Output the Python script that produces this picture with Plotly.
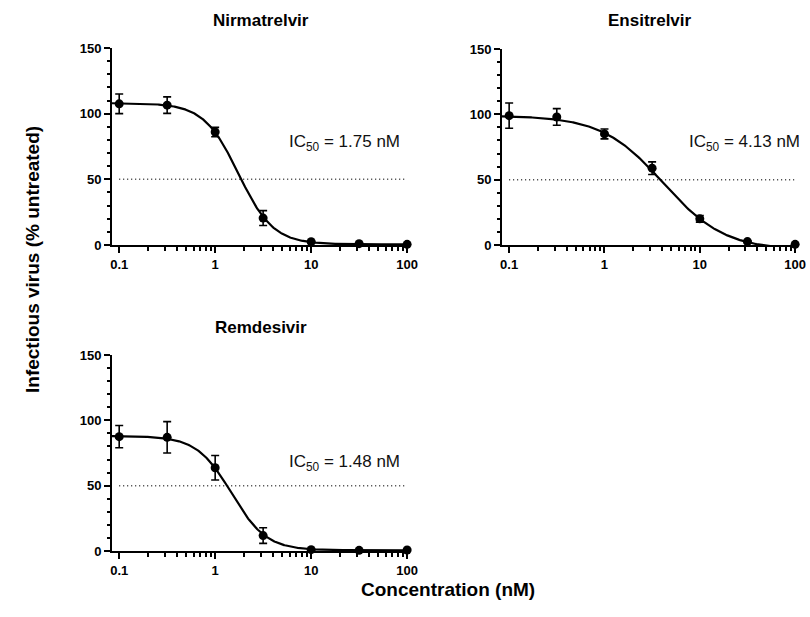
import numpy as np
import plotly.graph_objects as go

# ---------------- data ----------------
conc = [0.1, 0.316, 1, 3.16, 10, 31.6, 100]          # nM
drugs = ["Nirmatrelvir", "Ensitrelvir", "Remdesivir"]
ic50_labels = ["1.75", "4.13", "1.48"]

nirm_mean = [107.5, 106.5, 86, 20.5, 2.5, 1.0, 0.5]
nirm_sd = [7.5, 6.3, 3.6, 5.7, 0.6, 0.4, 0.3]
ensi_mean = [99, 98, 85, 58.8, 20, 2.6, 0.5]
ensi_sd = [9.7, 6.4, 3.8, 4.8, 2.5, 0.6, 0.3]
remd_mean = [87.5, 87, 63.7, 11.8, 1.0, 0.5, 0.8]
remd_sd = [8.5, 12, 9.4, 6.0, 0.5, 0.3, 0.3]

# four-parameter logistic fit parameters (top, bottom, IC50, Hill slope)
fit_top = [108, 99, 88]
fit_bottom = [0.5, -4, 0.5]
fit_ic50 = [1.75, 4.13, 1.48]
fit_hill = [2.4, 1.35, 2.4]

means = [nirm_mean, ensi_mean, remd_mean]
sds = [nirm_sd, ensi_sd, remd_sd]

# ---------------- layout geometry (target page pixels) ----------------
W, H = 810, 617
panels = [  # x0, x1, y_top, y_bottom
    (112, 410, 48, 245),
    (502, 798, 49, 245),
    (112, 410, 355, 551),
]
ic50_pos = [(402, 143), (802, 143), (402, 463)]
FONT = "Liberation Sans, Arial, sans-serif"


def px(x):
    return x / W


def py(y):
    return 1 - y / H


fig = go.Figure()
xs_fit = np.logspace(-1.08, 2.04, 400)

for i in range(3):
    xa = "x" if i == 0 else f"x{i+1}"
    ya = "y" if i == 0 else f"y{i+1}"
    # dotted 50% line
    fig.add_trace(go.Scatter(x=[0.1, 100], y=[50, 50], mode="lines",
                             line=dict(color="#333333", width=1.5, dash="1px,3px"),
                             xaxis=xa, yaxis=ya, showlegend=False, hoverinfo="skip"))
    # fitted curve
    top, bot, ic, h = fit_top[i], fit_bottom[i], fit_ic50[i], fit_hill[i]
    yfit = bot + (top - bot) / (1 + (xs_fit / ic) ** h)
    fig.add_trace(go.Scatter(x=xs_fit, y=yfit, mode="lines",
                             line=dict(color="black", width=2.2),
                             xaxis=xa, yaxis=ya, showlegend=False, hoverinfo="skip"))
    # data points with error bars
    fig.add_trace(go.Scatter(x=conc, y=means[i], mode="markers",
                             marker=dict(color="black", size=9, symbol="circle"),
                             error_y=dict(type="data", array=sds[i], visible=True,
                                          color="black", thickness=1.6, width=4),
                             cliponaxis=False,
                             xaxis=xa, yaxis=ya, showlegend=False))

layout = dict(
    width=W, height=H,
    autosize=False,
    margin=dict(l=0, r=0, t=0, b=0, pad=0, autoexpand=False),
    paper_bgcolor="white", plot_bgcolor="white",
    font=dict(family=FONT, color="black"),
    showlegend=False,
)

annotations = []
for i, (x0, x1, yt, yb) in enumerate(panels):
    sfx = "" if i == 0 else str(i + 1)
    layout["xaxis" + sfx] = dict(
        type="log", range=[-1.075, 2.03], domain=[px(x0), px(x1)],
        anchor="y" + sfx, showgrid=False, zeroline=False, automargin=False,
        showline=True, linecolor="black", linewidth=2,
        ticks="outside", ticklen=6, tickwidth=2, tickcolor="black",
        tickvals=[0.1, 1, 10, 100], ticktext=["0.1", "1", "10", "100"],
        tickfont=dict(family=FONT, size=13, color="black", weight="bold"),
        minor=dict(ticks="outside", ticklen=3.5, tickwidth=1.5, tickcolor="black",
                   tickvals=[a * b for b in (0.1, 1, 10) for a in range(2, 10)],
                   showgrid=False),
    )
    layout["yaxis" + sfx] = dict(
        range=[0, 150], domain=[py(yb), py(yt)], anchor="x" + sfx,
        showgrid=False, zeroline=False, automargin=False,
        showline=True, linecolor="black", linewidth=2,
        ticks="outside", ticklen=6, tickwidth=2, tickcolor="black",
        tickvals=[0, 50, 100, 150],
        tickfont=dict(family=FONT, size=13, color="black", weight="bold"),
        minor=dict(ticks="outside", ticklen=3.5, tickwidth=1.5, tickcolor="black",
                   dtick=10, showgrid=False),
    )
    # panel title
    annotations.append(dict(
        text=f"<b>{drugs[i]}</b>", xref="paper", yref="paper",
        x=px((x0 + x1) / 2), y=py(20 if i < 2 else 327),
        xanchor="center", yanchor="middle", showarrow=False,
        font=dict(family=FONT, size=17, color="black")))
    # IC50 label
    ax, ay = ic50_pos[i]
    annotations.append(dict(
        text=f"IC<sub>50</sub> = {ic50_labels[i]} nM", xref="paper", yref="paper",
        x=px(ax), y=py(ay), xanchor="right", yanchor="middle",
        showarrow=False, font=dict(family=FONT, size=17, color="#111111")))

# axis titles
annotations.append(dict(
    text="<b>Concentration (nM)</b>", xref="paper", yref="paper",
    x=px(448), y=py(589), xanchor="center", yanchor="middle",
    showarrow=False, font=dict(family=FONT, size=19, color="black")))
annotations.append(dict(
    text="<b>Infectious virus (% untreated)</b>", xref="paper", yref="paper",
    x=px(32), y=py(260), xanchor="center", yanchor="middle", textangle=-90,
    showarrow=False, font=dict(family=FONT, size=19, color="black")))

layout["annotations"] = annotations
fig.update_layout(**layout)
fig.write_html(
    "out.html",
    config={"displayModeBar": False, "responsive": False},
    post_script="document.body.style.margin='0';"
                "document.body.style.overflow='hidden';",
)
